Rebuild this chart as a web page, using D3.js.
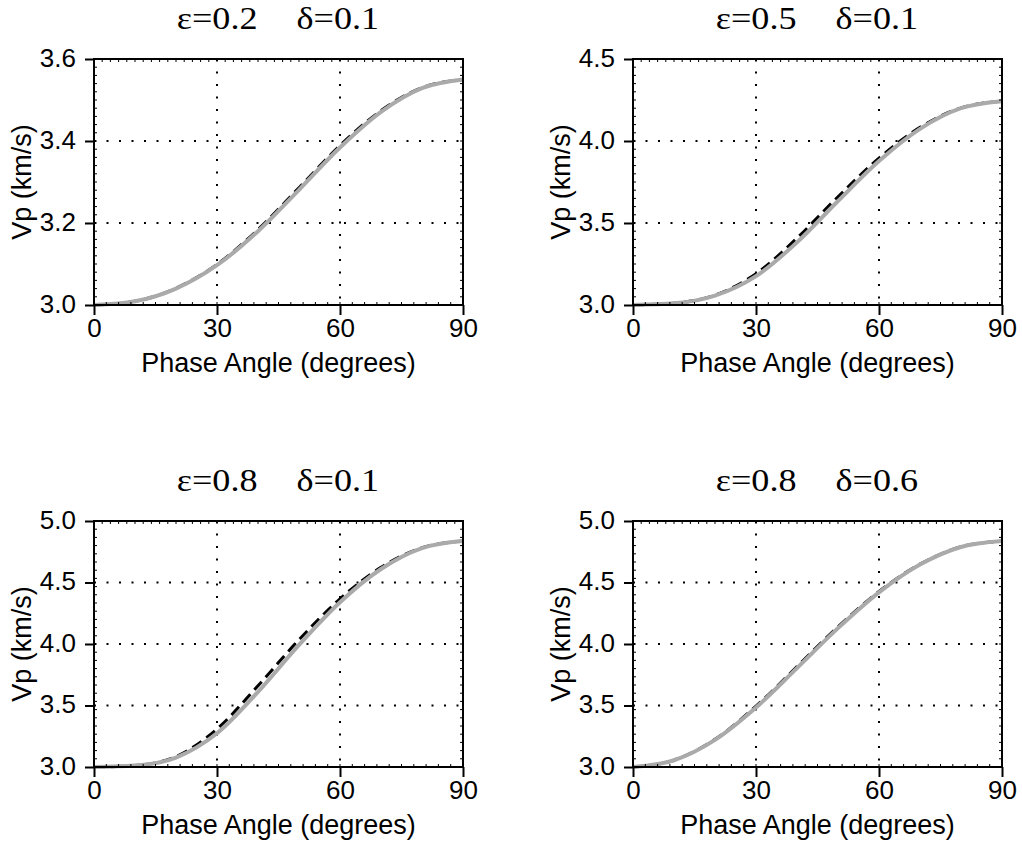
<!DOCTYPE html>
<html>
<head>
<meta charset="utf-8">
<script src="https://cdnjs.cloudflare.com/ajax/libs/d3/7.8.5/d3.min.js"></script>
<style>
body{margin:0;background:#fff;}
svg{display:block;}
</style>
</head>
<body>
<div class="chart"></div>
<script>
// phase angle samples (degrees)
var angles = [0, 10, 20, 30, 40, 50, 60, 70, 80, 90];

// anisotropy parameters per panel
var epsilons = ["0.2", "0.5", "0.8", "0.8"];
var deltas = ["0.1", "0.1", "0.1", "0.6"];

// y axis range + ticks per panel
var yMin = [3.0, 3.0, 3.0, 3.0];
var yMax = [3.6, 4.5, 5.0, 5.0];
var yTicks = [
    [3.0, 3.2, 3.4, 3.6],
    [3.0, 3.5, 4.0, 4.5],
    [3.0, 3.5, 4.0, 4.5, 5.0],
    [3.0, 3.5, 4.0, 4.5, 5.0]
];
var xTicks = [0, 30, 60, 90];

// grey solid curve, Vp (km/s)
var greyVp = [
    [3.000, 3.009, 3.040, 3.097, 3.180, 3.281, 3.384, 3.471, 3.529, 3.550],
    [3.000, 3.010, 3.057, 3.176, 3.382, 3.634, 3.878, 4.074, 4.200, 4.243],
    [3.000, 3.012, 3.077, 3.274, 3.611, 3.993, 4.340, 4.610, 4.780, 4.837],
    [3.000, 3.055, 3.221, 3.484, 3.804, 4.129, 4.420, 4.646, 4.789, 4.837]
];
// black dashed curve, Vp (km/s)
var dashVp = [
    [3.000, 3.009, 3.041, 3.099, 3.184, 3.286, 3.389, 3.474, 3.530, 3.550],
    [3.000, 3.011, 3.060, 3.191, 3.408, 3.660, 3.896, 4.083, 4.202, 4.243],
    [3.000, 3.012, 3.085, 3.309, 3.661, 4.035, 4.367, 4.623, 4.783, 4.837],
    [3.000, 3.056, 3.225, 3.494, 3.816, 4.140, 4.427, 4.649, 4.790, 4.837]
];

var w = 1022, h = 844;
var pw = 369, ph = 246;
var panels = [{x: 94, y: 59}, {x: 633, y: 59}, {x: 94, y: 521}, {x: 633, y: 521}];

var sans = "'Liberation Sans', Arial, Helvetica, sans-serif";
var serif = "'Liberation Serif', 'Times New Roman', serif";

var svg = d3.select("div.chart")
    .append("svg")
    .attr("width", w)
    .attr("height", h)
    .attr("viewBox", `0 0 ${w} ${h}`);

svg.append("rect").attr("width", w).attr("height", h).attr("fill", "#fff");

panels.forEach(function(p, i){

    var g = svg.append("g").attr("transform", `translate(${p.x},${p.y})`);

    var x = d3.scaleLinear().domain([0, 90]).range([0, pw]);
    var y = d3.scaleLinear().domain([yMin[i], yMax[i]]).range([ph, 0]);

    //dotted grid
    g.selectAll(".vgrid")
        .data(xTicks.slice(1, -1))
        .join("line")
        .attr("x1", d => x(d)).attr("x2", d => x(d))
        .attr("y1", 0).attr("y2", ph)
        .attr("stroke", "#000")
        .attr("stroke-width", 2)
        .attr("stroke-dasharray", "2,10.5");

    g.selectAll(".hgrid")
        .data(yTicks[i].slice(1, -1))
        .join("line")
        .attr("x1", 0).attr("x2", pw)
        .attr("y1", d => y(d)).attr("y2", d => y(d))
        .attr("stroke", "#000")
        .attr("stroke-width", 2)
        .attr("stroke-dasharray", "2,10.5");

    //curves: dashed underneath, grey on top
    var line = d3.line()
        .x((d, j) => x(angles[j]))
        .y(d => y(d))
        .curve(d3.curveMonotoneX);

    g.append("path")
        .datum(dashVp[i])
        .attr("d", line)
        .attr("fill", "none")
        .attr("stroke", "#000")
        .attr("stroke-width", 3)
        .attr("stroke-dasharray", "11,6");

    g.append("path")
        .datum(greyVp[i])
        .attr("d", line)
        .attr("fill", "none")
        .attr("stroke", "#aaaaaa")
        .attr("stroke-width", 4);

    //minor inward ticks
    var minorY = d3.range(0, 31).map(k => yMin[i] + k * (yMax[i] - yMin[i]) / 30);
    g.selectAll(".mxb").data(d3.range(0, 91, 3)).join("line")
        .attr("x1", d => x(d)).attr("x2", d => x(d))
        .attr("y1", ph).attr("y2", ph - 3)
        .attr("stroke", "#000").attr("stroke-width", 1);
    g.selectAll(".mxt").data(d3.range(0, 91, 2)).join("line")
        .attr("x1", d => x(d)).attr("x2", d => x(d))
        .attr("y1", 0).attr("y2", 3)
        .attr("stroke", "#000").attr("stroke-width", 1);
    g.selectAll(".myl").data(minorY).join("line")
        .attr("x1", 0).attr("x2", 3)
        .attr("y1", d => y(d)).attr("y2", d => y(d))
        .attr("stroke", "#000").attr("stroke-width", 1);
    g.selectAll(".myr").data(minorY).join("line")
        .attr("x1", pw).attr("x2", pw - 3)
        .attr("y1", d => y(d)).attr("y2", d => y(d))
        .attr("stroke", "#000").attr("stroke-width", 1);

    //frame
    g.append("rect")
        .attr("width", pw).attr("height", ph)
        .attr("fill", "none")
        .attr("stroke", "#000")
        .attr("stroke-width", 2);

    //axes
    var xAxis = g.append("g")
        .attr("transform", `translate(0,${ph})`)
        .call(d3.axisBottom(x).tickValues(xTicks).tickSize(10).tickPadding(3.5).tickFormat(d3.format("d")));
    var yAxis = g.append("g")
        .call(d3.axisLeft(y).tickValues(yTicks[i]).tickSize(9).tickPadding(9).tickFormat(d3.format(".1f")));

    [xAxis, yAxis].forEach(function(a){
        a.select(".domain").remove();
        a.selectAll(".tick line").attr("stroke", "#000").attr("stroke-width", 2);
        a.selectAll("text")
            .attr("fill", "#000")
            .style("font-family", sans)
            .style("font-size", "26px");
    });
    yAxis.selectAll("text").attr("dy", "0.27em");

    //axis labels
    g.append("text")
        .attr("x", pw / 2)
        .attr("y", ph + 67)
        .attr("text-anchor", "middle")
        .style("font-family", sans)
        .style("font-size", "27px")
        .text("Phase Angle (degrees)");

    g.append("text")
        .attr("transform", `translate(-63,${ph / 2}) rotate(-90)`)
        .attr("text-anchor", "middle")
        .style("font-family", sans)
        .style("font-size", "27px")
        .text("Vp (km/s)");

    //title (slightly widened serif like the original)
    g.append("text")
        .attr("transform", `translate(${pw / 2 - 21},-30.5) scale(1.13,1)`)
        .attr("text-anchor", "end")
        .style("font-family", serif)
        .style("font-size", "32px")
        .text("ε=" + epsilons[i]);
    g.append("text")
        .attr("transform", `translate(${pw / 2 + 18},-30.5) scale(1.13,1)`)
        .attr("text-anchor", "start")
        .style("font-family", serif)
        .style("font-size", "32px")
        .text("δ=" + deltas[i]);
});
</script>
</body>
</html>
